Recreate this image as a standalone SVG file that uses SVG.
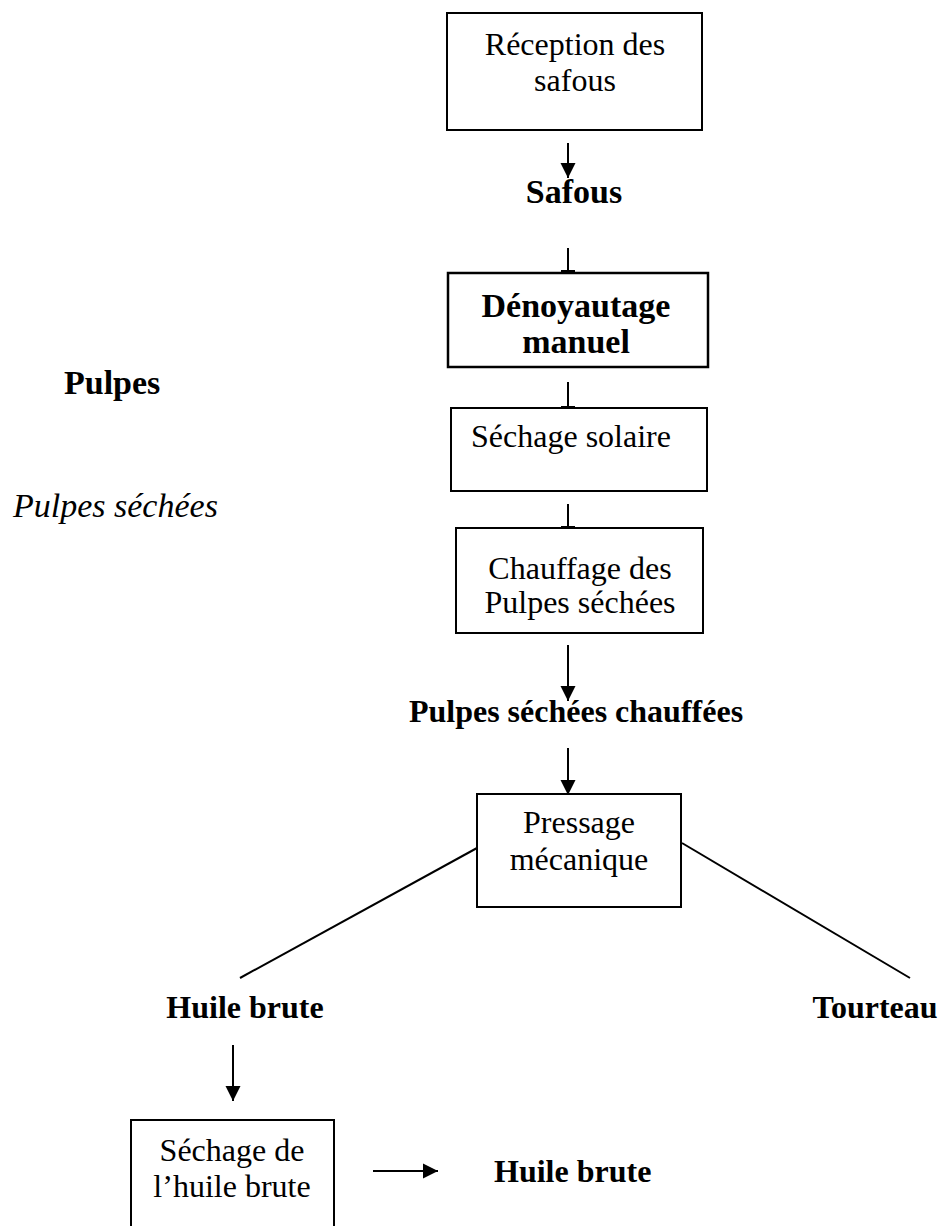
<svg xmlns="http://www.w3.org/2000/svg" width="941" height="1226" viewBox="0 0 941 1226">
<style>
.box{fill:#fff;stroke:#000;stroke-width:2}
.bx2{fill:#fff;stroke:#000;stroke-width:2.5}
.t{font-family:"Liberation Serif","Times New Roman",serif;font-size:32px;fill:#000}
.c{text-anchor:middle}
.b{font-weight:bold}
.i{font-style:italic}
.ln{stroke:#000;stroke-width:2;fill:none}
</style>
<defs>
<marker id="ah" markerUnits="userSpaceOnUse" markerWidth="16" markerHeight="16" viewBox="0 0 16 16" refX="15" refY="8" orient="auto">
<path d="M0,0.5 L15,8 L0,15.5 Z" fill="#000"/>
</marker>
</defs>
<g id="connectors">
<line class="ln" x1="568" y1="143" x2="568" y2="178" marker-end="url(#ah)"/>
<line class="ln" x1="568" y1="248" x2="568" y2="272"/>
<rect x="561" y="270" width="14" height="3" fill="#000"/>
<line class="ln" x1="568" y1="382" x2="568" y2="408"/>
<rect x="561" y="406" width="14" height="3" fill="#000"/>
<line class="ln" x1="568" y1="504" x2="568" y2="528"/>
<rect x="561" y="526" width="14" height="3" fill="#000"/>
<line class="ln" x1="568" y1="645" x2="568" y2="701" marker-end="url(#ah)"/>
<line class="ln" x1="568" y1="748" x2="568" y2="795" marker-end="url(#ah)"/>
<line class="ln" x1="477" y1="848" x2="240" y2="978"/>
<line class="ln" x1="682" y1="843" x2="910" y2="978"/>
<line class="ln" x1="233" y1="1045" x2="233" y2="1101" marker-end="url(#ah)"/>
<line class="ln" x1="373" y1="1171" x2="438" y2="1171" marker-end="url(#ah)"/>
</g>
<g id="n1">
<rect class="box" x="447" y="13" width="255" height="117"/>
<text class="t c" x="575" y="55">Réception des</text>
<text class="t c" x="575" y="91">safous</text>
</g>
<g id="l-safous">
<text class="t c b" x="574" y="203" style="font-size:34px">Safous</text>
</g>
<g id="n2">
<rect class="bx2" x="448" y="273" width="260" height="94"/>
<text class="t c b" x="576" y="317" style="font-size:34px">Dénoyautage</text>
<text class="t c b" x="576" y="353" style="font-size:34px">manuel</text>
</g>
<g id="l-pulpes">
<text class="t b" x="64" y="394" style="font-size:34px">Pulpes</text>
</g>
<g id="n3">
<rect class="box" x="451" y="408" width="256" height="83"/>
<text class="t c" x="571" y="447">Séchage solaire</text>
</g>
<g id="l-pulpes-sechees">
<text class="t i" x="13" y="517" style="font-size:34px">Pulpes séchées</text>
</g>
<g id="n4">
<rect class="box" x="456" y="528" width="247" height="105"/>
<text class="t c" x="580" y="579">Chauffage des</text>
<text class="t c" x="580" y="613">Pulpes séchées</text>
</g>
<g id="l-chauffees">
<text class="t c b" x="576" y="722">Pulpes séchées chauffées</text>
</g>
<g id="n5">
<rect class="box" x="477" y="794" width="204" height="113"/>
<text class="t c" x="579" y="833">Pressage</text>
<text class="t c" x="579" y="870">mécanique</text>
</g>
<g id="l-huile1">
<text class="t c b" x="245" y="1018">Huile brute</text>
</g>
<g id="l-tourteau">
<text class="t c b" x="875" y="1018">Tourteau</text>
</g>
<g id="n6">
<rect class="box" x="131" y="1120" width="203" height="130"/>
<text class="t c" x="232" y="1161">Séchage de</text>
<text class="t c" x="232" y="1197">l’huile brute</text>
</g>
<g id="l-huile2">
<text class="t b" x="494" y="1182">Huile brute</text>
</g>
</svg>
